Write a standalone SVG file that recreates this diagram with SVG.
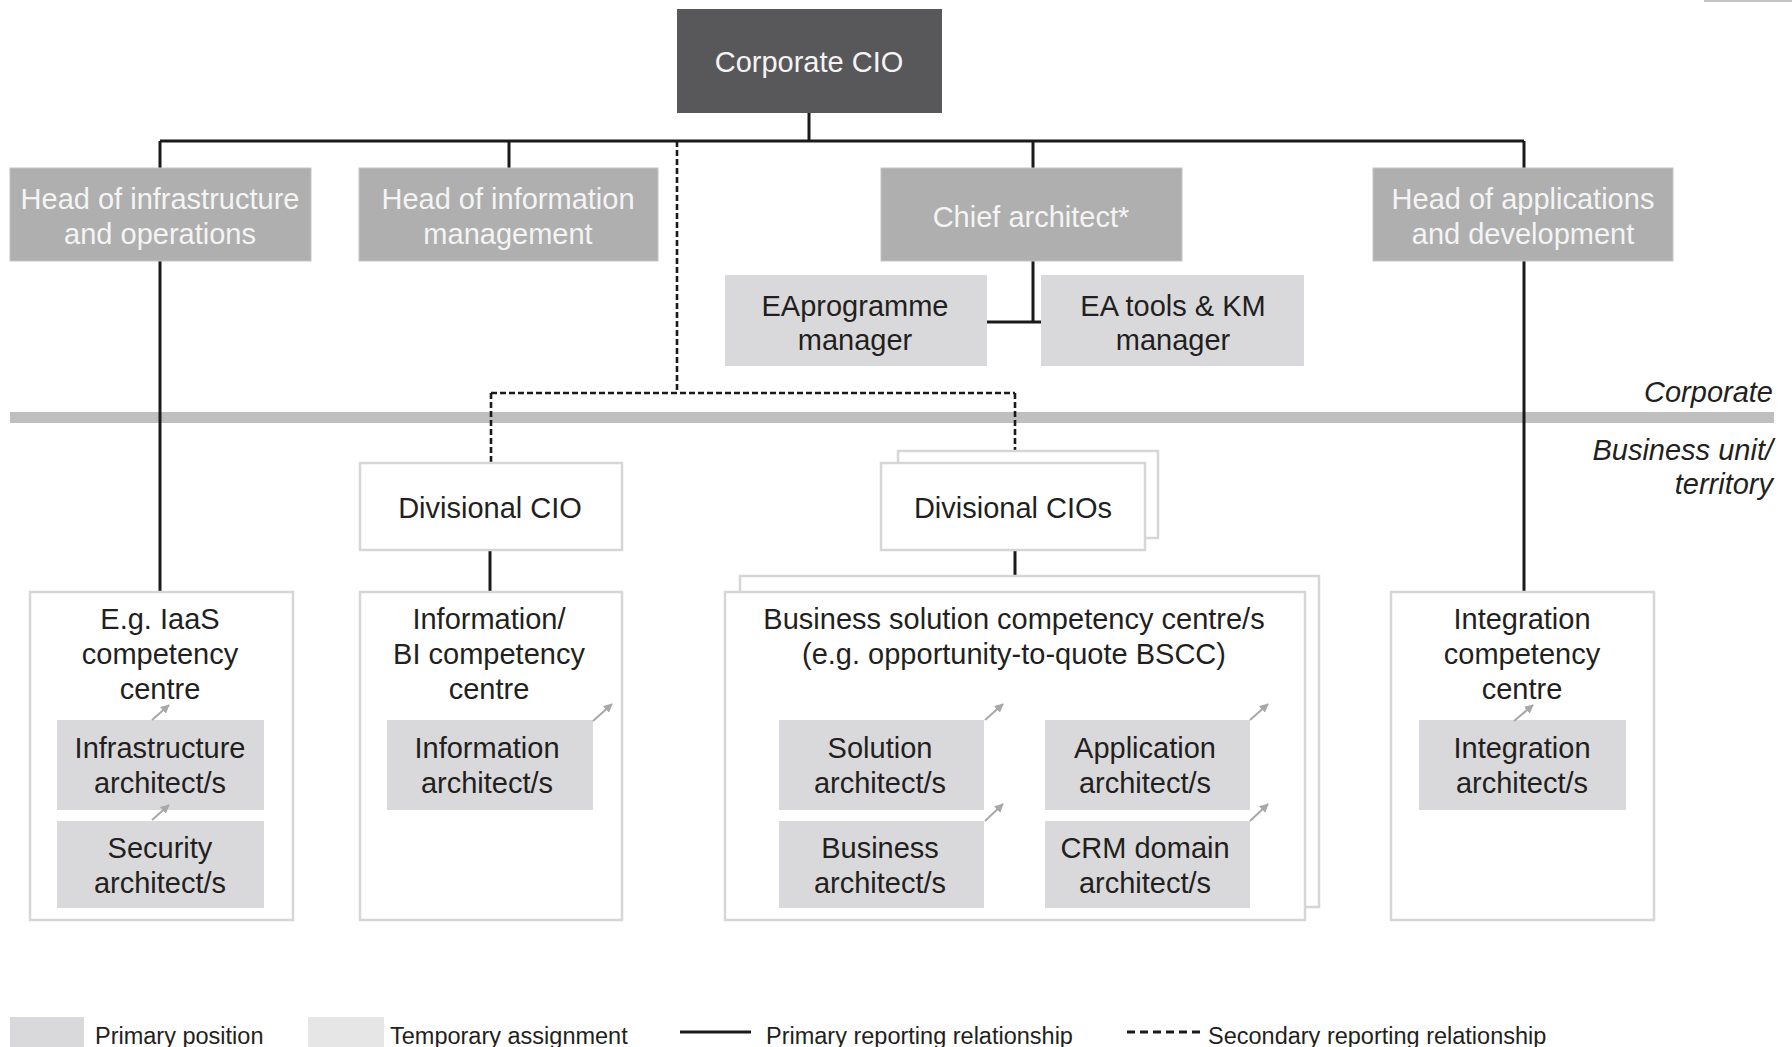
<svg xmlns="http://www.w3.org/2000/svg" width="1792" height="1047" viewBox="0 0 1792 1047">
<defs>
<style>
text{font-family:"Liberation Sans",Arial,sans-serif;font-size:29px;fill:#231f20;text-anchor:middle}
.w{fill:#f4f4f4}
.it{font-style:italic;text-anchor:end}
.lg{font-size:23.5px;text-anchor:start}
.cio{fill:#58585a}
.head{fill:#afafaf;stroke:#c4c4c4;stroke-width:1}
.prim{fill:#d9d9db}
.temp{fill:#e6e6e7}
.wbox{fill:#fff;stroke:#d6d6d6;stroke-width:2.5}
.ln{stroke:#1a1a1a;stroke-width:3;fill:none}
.dl{stroke:#1a1a1a;stroke-width:2.6;fill:none;stroke-dasharray:6 3}
.ar{stroke:#a8a8a8;stroke-width:2;fill:none;marker-end:url(#ah)}
</style>
<marker id="ah" viewBox="0 0 10 10" refX="9" refY="5" markerWidth="4.5" markerHeight="4.5" orient="auto" markerUnits="strokeWidth">
<path d="M0,0 L10,5 L0,10 z" fill="#a8a8a8"/>
</marker>
</defs>
<rect x="1704" y="0" width="88" height="2" fill="#c4c4c4"/>
<rect id="band" x="10" y="412" width="1764" height="11" fill="#bfbfbf"/>
<text class="it" x="1773" y="402">Corporate</text>
<text class="it" x="1773" y="460">Business unit/</text>
<text class="it" x="1773" y="494">territory</text>
<g id="connectors">
<path class="ln" d="M809,113 V141 M160,141 H1524 M160,141 V168 M509,141 V168 M1033,141 V168 M1524,141 V168"/>
<path class="ln" d="M1033,261 V322 M987,322 H1041"/>
<path class="ln" d="M160,261 V592 M1524,261 V592"/>
<path class="ln" d="M490,550 V592 M1015,550 V592"/>
<path class="dl" d="M677,141 V393 M491,393 H1015 M491,393 V463 M1015,393 V463"/>
</g>
<g id="corporate-cio"><rect class="cio" x="677" y="9" width="265" height="104"/><text class="w" x="809" y="72">Corporate CIO</text></g>
<g id="head-infra"><rect class="head" x="10" y="168" width="301" height="93"/><text class="w" x="160" y="209">Head of infrastructure</text><text class="w" x="160" y="244">and operations</text></g>
<g id="head-info"><rect class="head" x="359" y="168" width="299" height="93"/><text class="w" x="508" y="209">Head of information</text><text class="w" x="508" y="244">management</text></g>
<g id="chief-architect"><rect class="head" x="881" y="168" width="301" height="93"/><text class="w" x="1031" y="227">Chief architect*</text></g>
<g id="head-apps"><rect class="head" x="1373" y="168" width="300" height="93"/><text class="w" x="1523" y="209">Head of applications</text><text class="w" x="1523" y="244">and development</text></g>
<g id="ea-programme"><rect class="prim" x="725" y="275" width="262" height="91"/><text x="855" y="316">EAprogramme</text><text x="855" y="350">manager</text></g>
<g id="ea-tools"><rect class="prim" x="1041" y="275" width="263" height="91"/><text x="1173" y="316">EA tools &amp; KM</text><text x="1173" y="350">manager</text></g>
<g id="divisional-cio"><rect class="wbox" x="360" y="463" width="262" height="87"/><text x="490" y="518">Divisional CIO</text></g>
<g id="divisional-cios"><rect class="wbox" x="898" y="451" width="260" height="87"/><rect class="wbox" x="881" y="463" width="264" height="87"/><text x="1013" y="518">Divisional CIOs</text></g>
<g id="iaas-cc"><rect class="wbox" x="30" y="592" width="263" height="328"/><text x="160" y="629">E.g. IaaS</text><text x="160" y="664">competency</text><text x="160" y="699">centre</text></g>
<g id="bi-cc"><rect class="wbox" x="360" y="592" width="262" height="328"/><text x="489" y="629">Information/</text><text x="489" y="664">BI competency</text><text x="489" y="699">centre</text></g>
<g id="bscc"><rect class="wbox" x="740" y="576" width="579" height="331"/><rect class="wbox" x="725" y="592" width="580" height="328"/><text x="1014" y="629">Business solution competency centre/s</text><text x="1014" y="664">(e.g. opportunity-to-quote BSCC)</text></g>
<g id="integration-cc"><rect class="wbox" x="1391" y="592" width="263" height="328"/><text x="1522" y="629">Integration</text><text x="1522" y="664">competency</text><text x="1522" y="699">centre</text></g>
<g id="infra-architect"><rect class="prim" x="57" y="720" width="207" height="90"/><text x="160" y="758">Infrastructure</text><text x="160" y="793">architect/s</text></g>
<g id="security-architect"><rect class="prim" x="57" y="821" width="207" height="87"/><text x="160" y="858">Security</text><text x="160" y="893">architect/s</text></g>
<g id="info-architect"><rect class="prim" x="387" y="720" width="206" height="90"/><text x="487" y="758">Information</text><text x="487" y="793">architect/s</text></g>
<g id="solution-architect"><rect class="prim" x="779" y="720" width="205" height="90"/><text x="880" y="758">Solution</text><text x="880" y="793">architect/s</text></g>
<g id="application-architect"><rect class="prim" x="1045" y="720" width="205" height="90"/><text x="1145" y="758">Application</text><text x="1145" y="793">architect/s</text></g>
<g id="business-architect"><rect class="prim" x="779" y="821" width="205" height="87"/><text x="880" y="858">Business</text><text x="880" y="893">architect/s</text></g>
<g id="crm-architect"><rect class="prim" x="1045" y="821" width="205" height="87"/><text x="1145" y="858">CRM domain</text><text x="1145" y="893">architect/s</text></g>
<g id="integration-architect"><rect class="prim" x="1419" y="720" width="207" height="90"/><text x="1522" y="758">Integration</text><text x="1522" y="793">architect/s</text></g>
<g id="small-arrows">
<path class="ar" d="M152,720 L169,705"/>
<path class="ar" d="M152,820 L169,805"/>
<path class="ar" d="M593,721 L612,704"/>
<path class="ar" d="M985,720 L1003,704"/>
<path class="ar" d="M985,821 L1003,804"/>
<path class="ar" d="M1250,720 L1268,704"/>
<path class="ar" d="M1250,821 L1268,804"/>
<path class="ar" d="M1514,721 L1533,705"/>
</g>
<g id="legend">
<rect class="prim" x="10" y="1017" width="74" height="30"/>
<text class="lg" x="95" y="1044">Primary position</text>
<rect class="temp" x="308" y="1017" width="76" height="30"/>
<text class="lg" x="390" y="1044">Temporary assignment</text>
<line x1="680" y1="1032" x2="751" y2="1032" stroke="#1a1a1a" stroke-width="3"/>
<text class="lg" x="766" y="1044">Primary reporting relationship</text>
<line x1="1127" y1="1032" x2="1203" y2="1032" stroke="#1a1a1a" stroke-width="3" stroke-dasharray="8 5"/>
<text class="lg" x="1208" y="1044">Secondary reporting relationship</text>
</g>
</svg>
